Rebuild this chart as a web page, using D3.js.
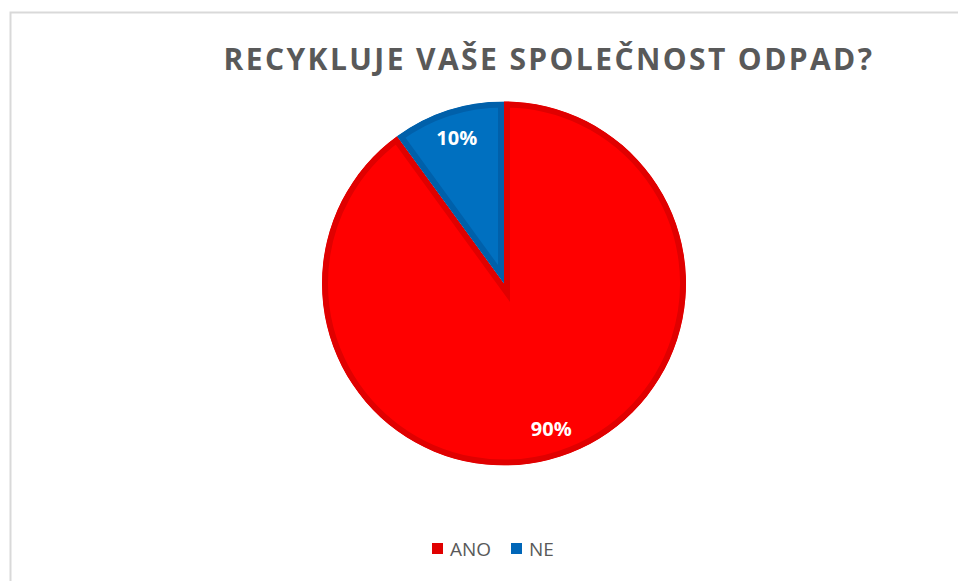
<!DOCTYPE html>
<html>
<head>
<meta charset="utf-8">
<title>recyklace odpadu</title>
<script src="https://cdn.jsdelivr.net/npm/d3@7"></script>
<style>
    body{
        margin:0;
        background:#fff;
        font-family:"Open Sans", sans-serif;
    }
</style>
</head>
<body>
<div id="chart"></div>
<script>
    var categories = ["ANO","NE"]
    var values = [90,10]
    var labels = ["90%","10%"]
    var title = "RECYKLUJE VAŠE SPOLEČNOST ODPAD?"

    var fills = {"ANO":"#ff0000","NE":"#0070c0"}
    var edges = {"ANO":"#e00000","NE":"#0060aa"}

    var width = 958, height = 581
    var cx = 504, cy = 283.5, r = 182

    var svg = d3.select("#chart").append("svg")
        .attr("width",width).attr("height",height)

    // chart frame (only top and left visible)
    svg.append("path")
        .attr("d","M10.5," + height + " V12.5 H" + width)
        .attr("fill","none")
        .attr("stroke","#d9d9d9")
        .attr("stroke-width",2)

    svg.append("text")
        .attr("x",549).attr("y",70)
        .attr("text-anchor","middle")
        .attr("fill","#595959")
        .style("font-size","30px")
        .style("font-weight","bold")
        .style("letter-spacing","2.4px")
        .text(title)

    var data = categories.map(function(c,i){ return {cat:c, value:values[i], label:labels[i]} })

    var pie = d3.pie().sort(null).value(function(d){ return d.value })
    var arc = d3.arc().innerRadius(0).outerRadius(r)
    var labelArc = d3.arc().innerRadius(r*0.84).outerRadius(r*0.84)

    var g = svg.append("g").attr("transform","translate(" + cx + "," + cy + ")")
    var slices = pie(data)

    var defs = svg.append("defs")
    slices.forEach(function(s,i){
        defs.append("clipPath").attr("id","clip"+i)
            .append("path").attr("d",arc(s))
    })

    g.selectAll(".slice")
        .data(slices)
        .enter().append("path")
        .attr("class","slice")
        .attr("d",arc)
        .attr("fill",function(d){ return fills[d.data.cat] })
        .attr("stroke",function(d){ return edges[d.data.cat] })
        .attr("stroke-width",12)
        .attr("stroke-linejoin","miter")
        .attr("clip-path",function(d,i){ return "url(#clip"+i+")" })

    g.selectAll(".lbl")
        .data(slices)
        .enter().append("text")
        .attr("class","lbl")
        .attr("transform",function(d){ return "translate(" + labelArc.centroid(d) + ")" })
        .attr("text-anchor","middle")
        .attr("dy","0.35em")
        .attr("fill","#fff")
        .style("font-size","20px")
        .style("font-weight","bold")
        .text(function(d){ return d.data.label })

    // legend
    var legend = svg.append("g").attr("transform","translate(432,543)")
    var lx = [0,79]
    var item = legend.selectAll(".key")
        .data(categories)
        .enter().append("g")
        .attr("transform",function(d,i){ return "translate(" + lx[i] + ",0)" })
    item.append("rect")
        .attr("width",11).attr("height",11)
        .attr("fill",function(d){ return d=="ANO" ? "#e00000" : "#0066b8" })
    item.append("text")
        .attr("x",18).attr("y",12.5)
        .attr("fill","#595959")
        .style("font-size","19px")
        .text(function(d){ return d })
</script>
</body>
</html>
